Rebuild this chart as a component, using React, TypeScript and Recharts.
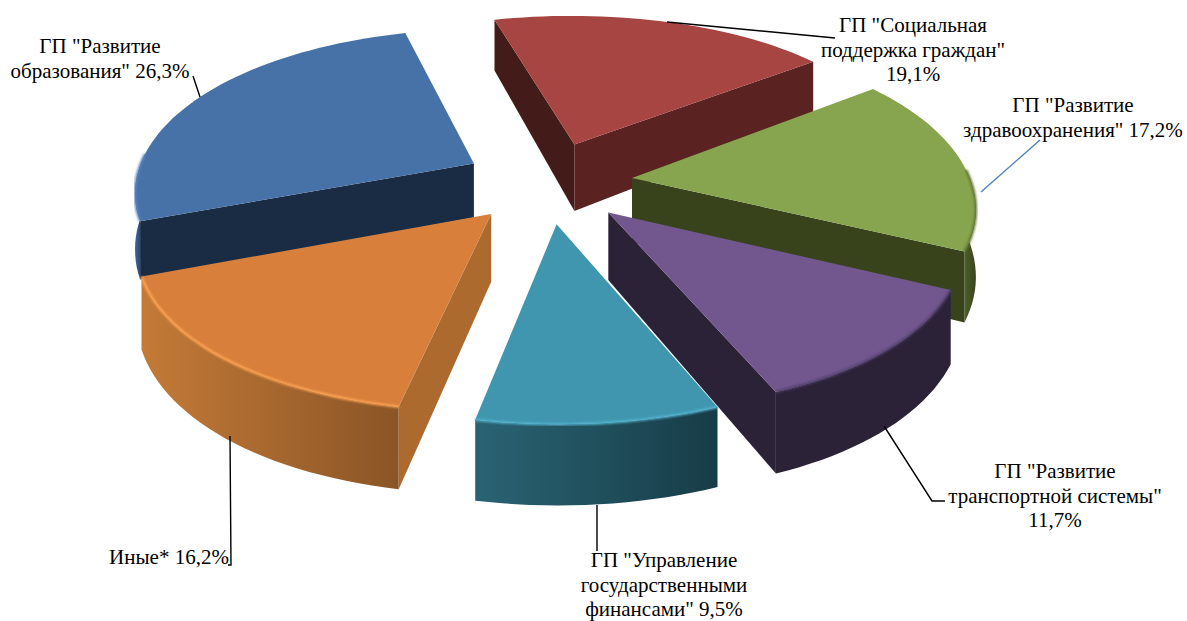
import React from "react";
import { PieChart, Pie } from "recharts";

const names = ["Развитие образования", "Социальная поддержка граждан", "Развитие здравоохранения", "Развитие транспортной системы", "Управление государственными финансами", "Иные"];
const values = [26.3, 19.1, 17.2, 11.7, 9.5, 16.2];

const topColors = ["#4672A8", "#A74542", "#87A44E", "#71578E", "#4096AF", "#D77F3B"];
const startWalls = ["#192C44", "#431B18", "#38431C", "#2C2238", "#1F4B59", "#AD6A2F"];
const endWalls = ["#192C44", "#5A2321", "#38431C", "#2C2238", "#173C47", "#8A5526"];
// outer wall gradient runs left to right
const outerLeft = ["#3E66A0", "#5A2321", "#4D5F28", "#2C2238", "#2A6373", "#C47A37"];
const outerRight = ["#192C44", "#5A2321", "#38431C", "#2C2238", "#173C47", "#8A5526"];
const rimColors = ["#5A86BE", "#A74542", "#5F7433", "#4E3C66", "#52B4D0", "#FFA552"];
const thickness = [0.85, 1.08, 1, 1, 0.97, 1];

const labelLines = [
  ['ГП "Развитие', 'образования" 26,3%'],
  ['ГП "Социальная', 'поддержка граждан"', "19,1%"],
  ['ГП "Развитие', 'здравоохранения" 17,2%'],
  ['ГП "Развитие', 'транспортной системы"', "11,7%"],
  ['ГП "Управление', "государственными", 'финансами" 9,5%'],
  ["Иные* 16,2%"],
];
const labelX = [100, 913, 1073, 1055, 664, 169];
const labelY = [53, 32, 112, 478, 567, 564];
const leaders = [
  "193,76 200,97",
  "667,22 835,38",
  "981,192 1040,140",
  "884,426 932,501 945,501",
  "597,505 597,551",
  "230,436 231,565 228,565",
];
const leaderColors = ["#000", "#000", "#4F81BD", "#000", "#000", "#000"];

const data = names.map((name, idx) => ({ name, value: values[idx], idx }));

const R = 400;
const EXPLODE = 100;
const rad = (d: number) => (d * Math.PI) / 180;

// hand fitted perspective, far side of the pie gets smaller and flatter
function project(cx: number, cy: number, gx: number, gy: number, down: number) {
  const t = gy / R;
  const wx = 1 / (1.18 + 0.18 * t);
  const ky = 0.41 - 0.06 * t;
  return [cx + gx * wx, cy - gy * ky + down * (65 - 15 * t)];
}
const pts = (list: number[][]) => list.map((p) => p[0].toFixed(1) + "," + p[1].toFixed(1)).join(" ");

function Slice3D(props: any) {
  const { cx, cy, startAngle, endAngle, midAngle } = props;
  const i = props.idx ?? props.payload?.idx ?? 0;
  const ex = EXPLODE * Math.cos(rad(midAngle));
  const ey = EXPLODE * Math.sin(rad(midAngle));
  const at = (angle: number, r: number, down: number) =>
    project(cx, cy, ex + r * Math.cos(rad(angle)), ey + r * Math.sin(rad(angle)), down * thickness[i]);

  const arc: number[] = [];
  const steps = Math.ceil(Math.abs(startAngle - endAngle) / 2);
  for (let s = 0; s <= steps; s++) arc.push(startAngle + ((endAngle - startAngle) * s) / steps);

  const apex = at(0, 0, 0);
  const apexLow = at(0, 0, 1);
  const top = [apex, ...arc.map((a) => at(a, R, 0))];
  const first = at(startAngle, R, 0);
  const last = at(endAngle, R, 0);

  // slices wind clockwise, so a radial wall faces us when its edge runs leftwards
  const showStart = first[0] < apex[0];
  const showEnd = last[0] > apex[0];

  const front = arc.filter((a) => Math.sin(rad(a)) < 0.08);
  const frontTop = front.map((a) => at(a, R, 0));
  const frontLow = front.map((a) => at(a, R, 1));
  const xs = frontTop.map((p) => p[0]);
  const gradId = "outer" + i;

  return (
    <g>
      <defs>
        <linearGradient id={gradId} gradientUnits="userSpaceOnUse" x1={Math.min(...xs, 1e4)} x2={Math.max(...xs, 0)} y1={0} y2={0}>
          <stop offset="0" stopColor={outerLeft[i]} />
          <stop offset="1" stopColor={outerRight[i]} />
        </linearGradient>
        <filter id={"soft" + i} x="-10%" y="-10%" width="120%" height="120%">
          <feGaussianBlur stdDeviation="0.9" />
        </filter>
      </defs>
      {front.length > 1 && <polygon points={pts([...frontTop, ...frontLow.slice().reverse()])} fill={"url(#" + gradId + ")"} />}
      {showStart && <polygon points={pts([apex, first, at(startAngle, R, 1), apexLow])} fill={startWalls[i]} />}
      {showEnd && <polygon points={pts([apex, last, at(endAngle, R, 1), apexLow])} fill={endWalls[i]} />}
      <polygon points={pts(top)} fill={topColors[i]} />
      {front.length > 1 && (
        <polyline points={pts(frontTop)} fill="none" stroke={rimColors[i]} strokeWidth={2.4} filter={"url(#soft" + i + ")"} />
      )}
    </g>
  );
}

function renderLabel(props: any) {
  const i = props.index;
  return (
    <g key={i}>
      <polyline points={leaders[i]} fill="none" stroke={leaderColors[i]} strokeWidth={1.4} />
      <text x={labelX[i]} y={labelY[i]} textAnchor="middle" fontFamily="Liberation Serif" fontSize={21} fill="#000">
        {labelLines[i].map((line, n) => (
          <tspan key={n} x={labelX[i]} dy={n === 0 ? 0 : 24.5}>{line}</tspan>
        ))}
      </text>
    </g>
  );
}

export default function App() {
  return (
    <div style={{ position: "absolute", left: 0, top: 0, width: 1187, height: 621 }}>
      <PieChart width={1187} height={621} margin={{ top: 0, right: 0, bottom: 0, left: 0 }}>
        <Pie
          data={data}
          dataKey="value"
          nameKey="name"
          cx={548}
          cy={182}
          innerRadius={0}
          outerRadius={R}
          startAngle={200.2}
          endAngle={-159.8}
          stroke="none"
          isAnimationActive={false}
          shape={Slice3D}
          label={renderLabel}
          labelLine={false}
        />
      </PieChart>
    </div>
  );
}
